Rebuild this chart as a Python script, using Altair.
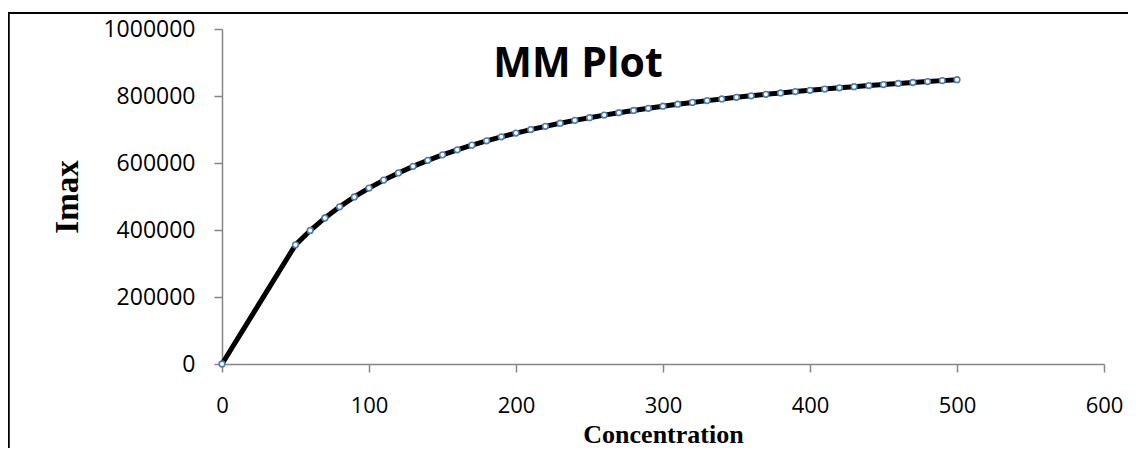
import altair as alt
import pandas as pd

concentration = [0, 50, 60, 70, 80, 90, 100, 110, 120, 130, 140, 150, 160, 170, 180,
                 190, 200, 210, 220, 230, 240, 250, 260, 270, 280, 290, 300, 310, 320,
                 330, 340, 350, 360, 370, 380, 390, 400, 410, 420, 430, 440, 450, 460,
                 470, 480, 490, 500]
imax = [0, 355700, 398500, 436100, 469200, 498700, 525100, 548900, 570400, 590000,
        607900, 624300, 639400, 653300, 666200, 678200, 689400, 699800, 709500,
        718700, 727300, 735300, 743000, 750200, 757000, 763400, 769600, 775400,
        780900, 786200, 791200, 796000, 800600, 805000, 809200, 813200, 817100,
        820800, 824400, 827800, 831100, 834300, 837400, 840300, 843100, 845900,
        848600]
x_ticks = [0, 100, 200, 300, 400, 500, 600]
y_ticks = [0, 200000, 400000, 600000, 800000, 1000000]
title_text = ["MM Plot"]

df = pd.DataFrame({"Concentration": concentration, "Imax": imax})

W, H = 882, 335
SANS = "Open Sans"
SERIF = "Liberation Serif"

x_enc = alt.X(
    "Concentration:Q",
    scale=alt.Scale(domain=[0, 600], nice=False),
    axis=alt.Axis(
        values=x_ticks, title="Concentration", grid=False,
        labelFont=SANS, labelFontSize=22, labelColor="#000000", labelPadding=23,
        tickSize=8, tickColor="#868686", domainColor="#868686", domainWidth=1.5, tickWidth=1.5,
        titleFont=SERIF, titleFontSize=26, titleFontWeight="bold", titleColor="#000000",
        titleBaseline="alphabetic", titleY=78, titleX=W / 2, labelFlush=False,
    ),
)
y_enc = alt.Y(
    "Imax:Q",
    scale=alt.Scale(domain=[0, 1000000], nice=False),
    axis=alt.Axis(
        values=y_ticks, format="d", title="Imax", grid=False,
        labelFont=SANS, labelFontSize=23, labelColor="#000000", labelPadding=19,
        tickSize=8, tickColor="#868686", domainColor="#868686", domainWidth=1.5, tickWidth=1.5,
        titleFont=SERIF, titleFontSize=33, titleFontWeight="bold", titleColor="#000000",
        titleBaseline="alphabetic", titleAngle=-90, titleX=-145, titleY=H / 2,
        titleAlign="center", labelFlush=False,
    ),
)

base = alt.Chart(df)
line = base.mark_line(color="#000000", strokeWidth=5).encode(x=x_enc, y=y_enc)
points = base.mark_point(
    shape="circle", filled=False, fill="#ffffff", fillOpacity=1,
    stroke="#4A7EBB", strokeWidth=1.6, size=32, opacity=1,
).encode(x="Concentration:Q", y="Imax:Q")

title = alt.Chart(pd.DataFrame({"t": title_text})).mark_text(
    font=SANS, fontSize=41, fontWeight="bold", color="#000000",
    align="center", baseline="alphabetic",
).encode(text="t:N", x=alt.value(356), y=alt.value(48))

frame_left = alt.Chart(pd.DataFrame({"t": title_text})).mark_rule(
    color="#000000", strokeWidth=2.5
).encode(x=alt.value(-213.5), y=alt.value(-16), y2=alt.value(500))
frame_top = alt.Chart(pd.DataFrame({"t": title_text})).mark_rule(
    color="#000000", strokeWidth=2
).encode(y=alt.value(-16), x=alt.value(-214.5), x2=alt.value(1000))

chart = alt.layer(frame_left, frame_top, line, points, title).properties(
    width=W, height=H,
    autosize=alt.AutoSizeParams(type="none"),
    padding={"left": 214, "top": 21, "right": 24, "bottom": 84},
    background="#ffffff",
).configure_view(stroke=None)

chart.save("out.html", embed_options={"renderer": "svg", "actions": False})
